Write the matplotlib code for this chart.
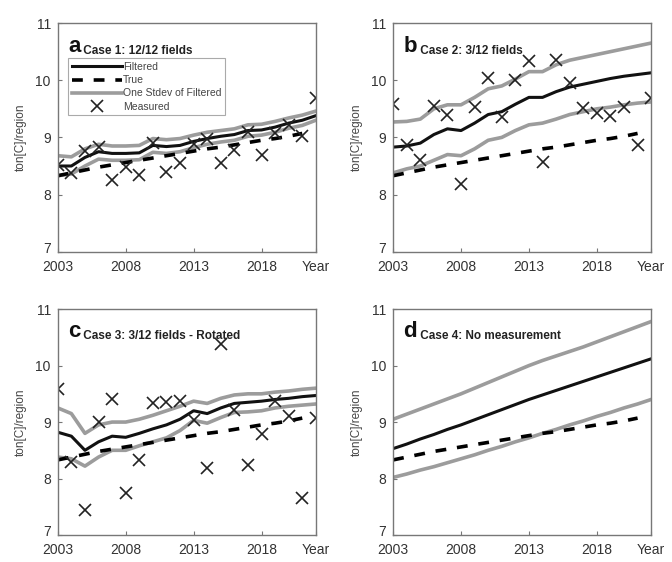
import matplotlib.pyplot as plt
from matplotlib.transforms import ScaledTranslation

plt.rcParams['font.family'] = ['Liberation Sans', 'DejaVu Sans']

years = list(range(2003, 2023))
true_years = list(range(2003, 2022))
true_vals = [8.33, 8.38, 8.43, 8.48, 8.52, 8.56, 8.60, 8.64, 8.68, 8.72,
             8.76, 8.80, 8.83, 8.87, 8.91, 8.95, 8.98, 9.02, 9.07]

# Case 1: 12/12 fields
filt_a = [8.50, 8.50, 8.65, 8.75, 8.72, 8.72, 8.73, 8.86, 8.84, 8.86,
          8.93, 8.98, 9.02, 9.05, 9.12, 9.13, 9.18, 9.25, 9.30, 9.38]
up_a = [8.68, 8.66, 8.80, 8.88, 8.85, 8.85, 8.86, 8.98, 8.96, 8.98,
        9.04, 9.09, 9.12, 9.15, 9.22, 9.23, 9.28, 9.34, 9.39, 9.46]
lo_a = [8.33, 8.36, 8.50, 8.62, 8.60, 8.60, 8.61, 8.74, 8.72, 8.75,
        8.82, 8.88, 8.92, 8.95, 9.02, 9.04, 9.09, 9.16, 9.21, 9.30]
meas_a = [8.52, 8.38, 8.76, 8.83, 8.26, 8.49, 8.34, 8.91, 8.39, 8.55,
          8.88, 8.97, 8.56, 8.78, 9.09, 8.70, 9.08, 9.22, 9.02, 9.69]

# Case 2: 3/12 fields
filt_b = [8.83, 8.85, 8.90, 9.05, 9.15, 9.12, 9.25, 9.40, 9.45, 9.58,
          9.70, 9.70, 9.80, 9.88, 9.93, 9.98, 10.03, 10.07, 10.10, 10.13]
up_b = [9.27, 9.28, 9.32, 9.50, 9.57, 9.57, 9.70, 9.85, 9.90, 10.02,
        10.15, 10.15, 10.27, 10.35, 10.40, 10.45, 10.50, 10.55, 10.60, 10.65]
lo_b = [8.38, 8.45, 8.50, 8.60, 8.70, 8.68, 8.80, 8.95, 9.00, 9.12,
        9.22, 9.25, 9.32, 9.40, 9.45, 9.50, 9.53, 9.57, 9.60, 9.62]
meas_b = [9.58, 8.87, 8.61, 9.55, 9.40, 8.18, 9.53, 10.04, 9.36, 10.00,
          10.34, 8.57, 10.36, 9.95, 9.51, 9.43, 9.38, 9.53, 8.87, 9.69]

# Case 3: 3/12 fields - Rotated
filt_c = [8.82, 8.75, 8.50, 8.65, 8.75, 8.73, 8.80, 8.88, 8.95, 9.05,
          9.20, 9.15, 9.25, 9.33, 9.35, 9.37, 9.40, 9.42, 9.45, 9.47]
up_c = [9.25, 9.15, 8.80, 8.95, 9.00, 9.00, 9.05, 9.12, 9.20, 9.28,
        9.37, 9.33, 9.42, 9.48, 9.50, 9.50, 9.53, 9.55, 9.58, 9.60]
lo_c = [8.38, 8.35, 8.22, 8.38, 8.50, 8.50, 8.58, 8.65, 8.72, 8.85,
        9.03, 8.98, 9.08, 9.17, 9.18, 9.20, 9.25, 9.28, 9.30, 9.32]
meas_c = [9.58, 8.30, 7.45, 9.00, 9.41, 7.75, 8.33, 9.34, 9.36, 9.38,
          9.04, 8.19, 10.38, 9.22, 8.24, 8.79, 9.38, 9.10, 7.65, 9.07]

# Case 4: No measurement
filt_d = [8.53, 8.61, 8.70, 8.78, 8.87, 8.95, 9.04, 9.13, 9.22, 9.31,
          9.40, 9.48, 9.56, 9.64, 9.72, 9.80, 9.88, 9.96, 10.04, 10.12]
up_d = [9.05, 9.14, 9.23, 9.32, 9.41, 9.50, 9.60, 9.70, 9.80, 9.90,
        10.00, 10.09, 10.17, 10.25, 10.33, 10.42, 10.51, 10.60, 10.69, 10.78]
lo_d = [8.02, 8.08, 8.15, 8.21, 8.28, 8.35, 8.42, 8.50, 8.57, 8.65,
        8.72, 8.80, 8.87, 8.95, 9.02, 9.10, 9.17, 9.25, 9.32, 9.40]

panels = [
    ('a', 'Case 1: 12/12 fields', filt_a, up_a, lo_a, meas_a),
    ('b', 'Case 2: 3/12 fields', filt_b, up_b, lo_b, meas_b),
    ('c', 'Case 3: 3/12 fields - Rotated', filt_c, up_c, lo_c, meas_c),
    ('d', 'Case 4: No measurement', filt_d, up_d, lo_d, None),
]

# axes boxes in figure fractions (left, bottom, width, height)
boxes = [
    (0.086, 0.552, 0.384, 0.407),
    (0.585, 0.552, 0.384, 0.407),
    (0.086, 0.048, 0.384, 0.402),
    (0.585, 0.048, 0.384, 0.402),
]

xticks = [2003, 2008, 2013, 2018, 2022]
xtick_labels = ['2003', '2008', '2013', '2018', 'Year']
yticks = [7, 8, 9, 10, 11]

fig = plt.figure(figsize=(6.72, 5.62), dpi=100)

for (letter, case, filt, up, lo, meas), box in zip(panels, boxes):
    ax = fig.add_axes(box)
    ax.plot(years, up, color='#9c9c9c', lw=2.6, label='One Stdev of Filtered')
    ax.plot(years, lo, color='#9c9c9c', lw=2.6)
    ax.plot(true_years, true_vals, color='black', lw=2.6, ls=(0, (3, 3)), label='True')
    ax.plot(years, filt, color='#111111', lw=2.2, label='Filtered')
    if meas is not None:
        ax.plot(years, meas, ls='none', marker='x', color='#222222',
                markersize=8, mew=1.2, label='Measured')

    ax.set_xlim(2003, 2022)
    ax.set_ylim(7, 11)
    ax.set_xticks(xticks)
    ax.set_xticklabels(xtick_labels)
    ax.set_yticks(yticks)
    ax.tick_params(direction='in', length=3, width=0.8, color='#777777',
                   labelsize=10, labelcolor='#333333')
    ax.tick_params(axis='x', pad=6)
    ax.tick_params(axis='y', pad=5)
    # lift the lowest y label a little so it clears the first year label
    lab7 = ax.get_yticklabels()[0]
    lab7.set_transform(lab7.get_transform() + ScaledTranslation(0, 3 / 72, fig.dpi_scale_trans))
    for sp in ax.spines.values():
        sp.set_color('#777777')
        sp.set_linewidth(1.0)
    ax.set_ylabel('ton[C]/region', fontsize=8.5, color='#444444', labelpad=6)

    t = ax.text(0.04, 0.875, letter, transform=ax.transAxes, fontsize=16,
                fontweight='bold', color='#111111', va='baseline')
    ax.annotate(' ' + case, xy=(1, 0), xycoords=t, va='bottom', ha='left',
                fontsize=8.5, fontweight='bold', color='#222222')

    if letter == 'a':
        h, l = ax.get_legend_handles_labels()
        order = [2, 1, 0, 3]
        leg = ax.legend([h[i] for i in order], [l[i] for i in order],
                        loc='upper left', bbox_to_anchor=(0.04, 0.845),
                        fontsize=7.5, handlelength=4.8, handletextpad=0.1,
                        labelspacing=0.3, borderpad=0.35, fancybox=False,
                        framealpha=1, edgecolor='#aaaaaa', borderaxespad=0)
        leg.get_frame().set_linewidth(0.8)
        for txt in leg.get_texts():
            txt.set_color('#444444')

fig.savefig('out.png', dpi=100)
